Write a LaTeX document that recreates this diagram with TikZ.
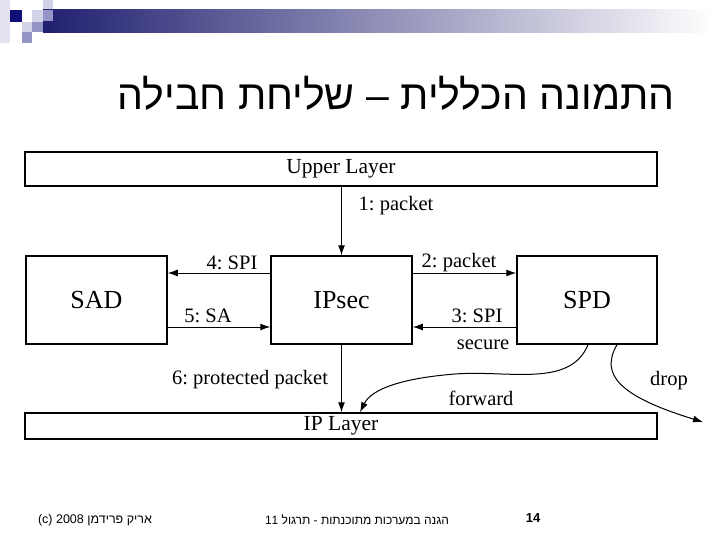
\documentclass[tikz,border=0pt]{standalone}
\usepackage{fontspec}
\setmainfont{Liberation Serif}
\newfontfamily\hebfont[Script=Hebrew]{Liberation Sans}
\newfontfamily\sansfnt{Liberation Sans}
\TeXXeTstate=1
\usetikzlibrary{arrows.meta}
\definecolor{navyq}{HTML}{10107A}
\definecolor{navybar}{HTML}{202070}
\definecolor{midbar}{HTML}{A8A8C4}
\definecolor{sqlight}{HTML}{D2D2E8}
\definecolor{sqmed}{HTML}{9494C6}
\definecolor{sqpale}{HTML}{E2E2F0}
\tikzset{
  box/.style={draw, line width=1.5pt, inner sep=0pt},
  arr/.style={line width=1pt, -{Latex[length=10pt,width=7pt]}},
  lbl/.style={font=\fontsize{20.5}{24}\selectfont, inner sep=0pt},
  boxname/.style={font=\fontsize{26}{30}\selectfont},
  layername/.style={font=\fontsize{21.5}{25}\selectfont}
}
\frenchspacing
\begin{document}
\begin{tikzpicture}[x=1pt,y=-1pt]
\useasboundingbox (0,0) rectangle (720,540);
% header decoration
\fill[sqpale] (0,0) rectangle (10,43);
\fill[navyq] (10,10) rectangle (22,22);
\fill[sqlight] (32,10) rectangle (43,22);
\fill[sqlight] (43,0) rectangle (53,10);
\fill[sqlight] (22,22) rectangle (32,32);
\fill[sqmed] (32,22) rectangle (43,32);
\fill[sqmed] (22,32) rectangle (32,43);
\shade[left color=navybar, middle color=midbar, right color=white] (43,10) rectangle (715,33);
\fill[sqmed] (43,10) rectangle (53,21);
% title
\node[anchor=east, inner sep=0pt] (title) at (675,93) {\hebfont\fontsize{41}{48}\selectfont\beginR התמונה הכללית – שליחת חבילה\endR};
% boxes
\node[box, minimum width=632pt, minimum height=34pt, layername] (upper) at (341,169) {Upper Layer};
\node[box, minimum width=141pt, minimum height=88pt, boxname] (sad) at (96.5,300) {SAD};
\node[box, minimum width=141pt, minimum height=88pt, boxname] (ipsec) at (341.5,300) {IPsec};
\node[box, minimum width=140pt, minimum height=88pt, boxname] (spd) at (587,300) {SPD};
\node[box, minimum width=632pt, minimum height=26pt, layername] (iplayer) at (341,426) {IP Layer};
% arrows
\draw[arr] (ipsec.north |- upper.south) -- (ipsec.north);
\draw[arr] ([yshift=27pt]ipsec.west) -- ([yshift=27pt]sad.east);
\draw[arr] ([yshift=-27pt]sad.east) -- ([yshift=-27pt]ipsec.west);
\draw[arr] ([yshift=27pt]ipsec.east) -- ([yshift=27pt]spd.west);
\draw[arr] ([yshift=-27pt]spd.west) -- ([yshift=-27pt]ipsec.east);
\draw[arr] (ipsec.south) -- (ipsec.south |- iplayer.north);
\draw[arr] ([xshift=1pt]spd.south) .. controls (570,388) and (510,370) .. (455,374)
  .. controls (405,378) and (372,388) .. ([xshift=19pt]iplayer.north);
\coordinate (dropend) at (703,422);
\draw[arr] ([xshift=30pt]spd.south) .. controls (600,374) and (618,396) .. (dropend);
% labels
\node[lbl] (l1) at (396,206) {1: packet};
\node[lbl] (l4) at (232,263) {4: SPI};
\node[lbl] (l5) at (208,316) {5: SA};
\node[lbl] (l2) at (459,263) {2: packet};
\node[lbl] (l3) at (477,316) {3: SPI};
\node[lbl] (lsec) at (483,345) {secure};
\node[lbl] (l6) at (250,380) {6: protected packet};
\node[lbl] (lfwd) at (481,398) {forward};
\node[lbl] (ldrop) at (669,381) {drop};
% footer
\node[inner sep=0pt] (foot1) at (95,520) {\sansfnt\fontsize{12.5}{14}\selectfont (c) 2008 {\hebfont\beginR אריק פרידמן\endR}};
\node[inner sep=0pt] (foot2) at (357,520) {\hebfont\fontsize{12}{14}\selectfont\beginR הגנה במערכות מתוכנתות - תרגול \beginL 11\endL\endR};
\node[inner sep=0pt] (foot3) at (533,518) {\sansfnt\bfseries\fontsize{13}{15}\selectfont 14};
\end{tikzpicture}
\end{document}
